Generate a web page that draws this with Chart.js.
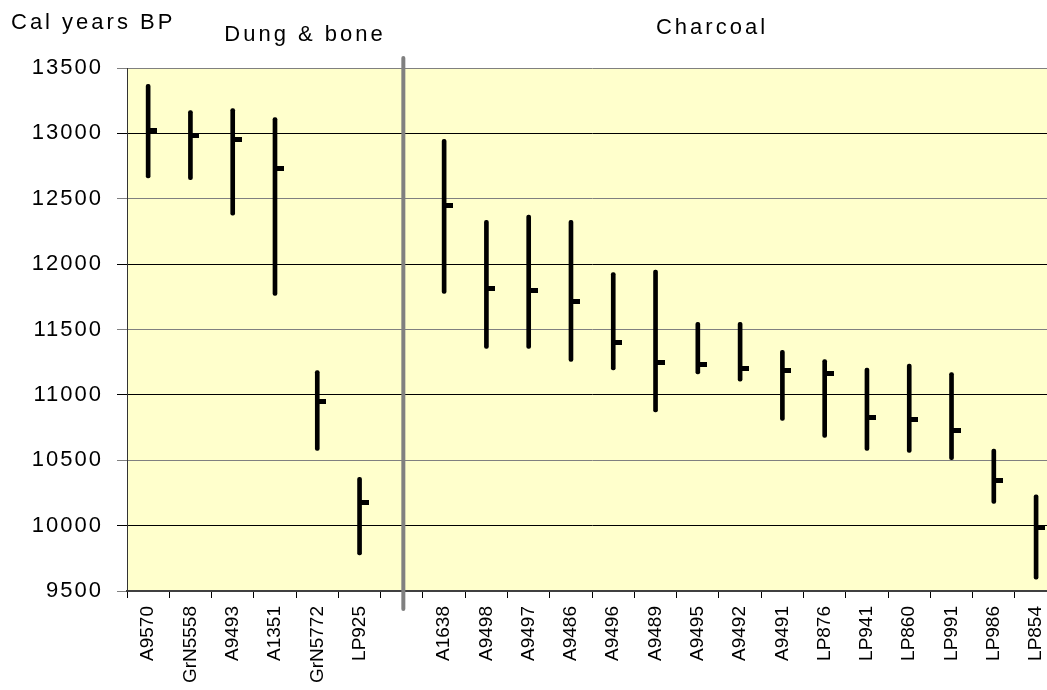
<!DOCTYPE html>
<html>
<head>
<meta charset="utf-8">
<script src="https://cdn.jsdelivr.net/npm/chart.js@4.4.1/dist/chart.umd.min.js"></script>
<style>
  html, body { margin: 0; padding: 0; overflow: hidden; background: #fff; }
  canvas { display: block; }
</style>
</head>
<body>
<canvas id="chart" width="1067" height="690" style="width:1067px;height:690px"></canvas>
<script>
// sample codes; the empty slot is where the dung/charcoal divider sits
const samples = ['A9570', 'GrN5558', 'A9493', 'A1351', 'GrN5772', 'LP925', '',
  'A1638', 'A9498', 'A9497', 'A9486', 'A9496', 'A9489', 'A9495', 'A9492', 'A9491',
  'LP876', 'LP941', 'LP860', 'LP991', 'LP986', 'LP854'];

// calibrated ranges (cal years BP)
const rangeHigh = [13375, 13175, 13190, 13120, 11185, 10370, null,
  12955, 12335, 12375, 12335, 11935, 11955, 11555, 11555, 11340,
  11270, 11205, 11235, 11170, 10585, 10235];
const rangeLow = [12660, 12645, 12375, 11760, 10575, 9775, null,
  11775, 11355, 11355, 11255, 11190, 10870, 11160, 11105, 10805,
  10675, 10575, 10560, 10505, 10170, 9590];
const median = [13020, 12985, 12950, 12735, 10950, 10180, null,
  12450, 11815, 11800, 11715, 11400, 11250, 11230, 11200, 11185,
  11165, 10830, 10815, 10730, 10345, 9985];

const yMin = 9500;
const yMax = 13500;
const yStep = 500;

const groupTitles = ['Dung & bone', 'Charcoal'];
const axisTitle = 'Cal years BP';

const FONT = '"Liberation Sans", Arial, sans-serif';

// little flag to the right of the range line marking the median
const medianMark = document.createElement('canvas');
medianMark.width = 18;
medianMark.height = 5;
const mctx = medianMark.getContext('2d');
mctx.fillStyle = '#000';
mctx.fillRect(9, 0, 9, 5);

const chartBg = {
  id: 'chartBg',
  beforeDraw(chart) {
    const { ctx, chartArea: a } = chart;
    ctx.letterSpacing = '2px';
    ctx.save();
    ctx.fillStyle = '#ffffcc';
    ctx.fillRect(a.left, a.top, a.right - a.left, a.bottom - a.top);
    ctx.restore();
  },
  afterDatasetsDraw(chart) {
    chart.ctx.letterSpacing = '0px';
  },
  afterDraw(chart) {
    const { ctx, chartArea: a } = chart;
    const x = chart.scales.x;
    const gap = samples.indexOf('');
    const sepX = (x.getPixelForValue(gap - 1) + x.getPixelForValue(gap + 1)) / 2 + 1.5;

    ctx.save();
    ctx.strokeStyle = '#808080';
    ctx.lineWidth = 4;
    ctx.lineCap = 'round';
    ctx.beginPath();
    ctx.moveTo(sepX, a.top - 10);
    ctx.lineTo(sepX, a.bottom + 18);
    ctx.stroke();

    ctx.fillStyle = '#000';
    ctx.font = '22px ' + FONT;
    ctx.letterSpacing = '3px';
    ctx.textBaseline = 'alphabetic';
    ctx.textAlign = 'left';
    ctx.fillText(axisTitle, 11, 29);
    ctx.textAlign = 'center';
    ctx.fillText(groupTitles[0], 305, 41);
    ctx.fillText(groupTitles[1], 712, 34);
    ctx.restore();
    ctx.letterSpacing = '0px';
  }
};

const data = {
  labels: samples,
  datasets: [
    {
      type: 'line',
      label: 'Median',
      data: median,
      showLine: false,
      pointStyle: medianMark,
      pointRadius: 3,
      pointHoverRadius: 3,
      order: 1
    },
    {
      type: 'bar',
      label: 'Range',
      data: rangeLow.map((lo, i) => (lo == null ? null : [lo, rangeHigh[i]])),
      backgroundColor: '#000',
      barThickness: 4,
      borderRadius: 2,
      borderSkipped: false,
      order: 2
    }
  ]
};

new Chart(document.getElementById('chart'), {
  type: 'bar',
  data: data,
  plugins: [chartBg],
  options: {
    responsive: false,
    animation: false,
    events: [],
    layout: { padding: { left: 0, top: 68, right: 5, bottom: 0 } },
    plugins: {
      legend: { display: false },
      tooltip: { enabled: false }
    },
    scales: {
      x: {
        grid: {
          drawOnChartArea: false,
          drawTicks: true,
          tickLength: 7,
          color: '#000',
          offset: true
        },
        border: { color: '#404040', width: 2 },
        ticks: {
          autoSkip: false,
          minRotation: 90,
          maxRotation: 90,
          padding: 8,
          color: '#000',
          font: { family: FONT, size: 19 },
          z: 1
        },
        afterFit(scale) { scale.height = 99; }
      },
      y: {
        min: yMin,
        max: yMax,
        grid: {
          color: (c) => (c.tick && c.tick.value % 1000 === 500 ? '#808080' : '#000'),
          lineWidth: 1,
          tickLength: 10
        },
        border: { color: '#333', width: 1 },
        ticks: {
          stepSize: yStep,
          padding: 14,
          color: '#000',
          font: { family: FONT, size: 22 },
          callback: (v) => String(v)
        },
        afterFit(scale) { scale.width = 127; }
      }
    }
  }
});
</script>
</body>
</html>
